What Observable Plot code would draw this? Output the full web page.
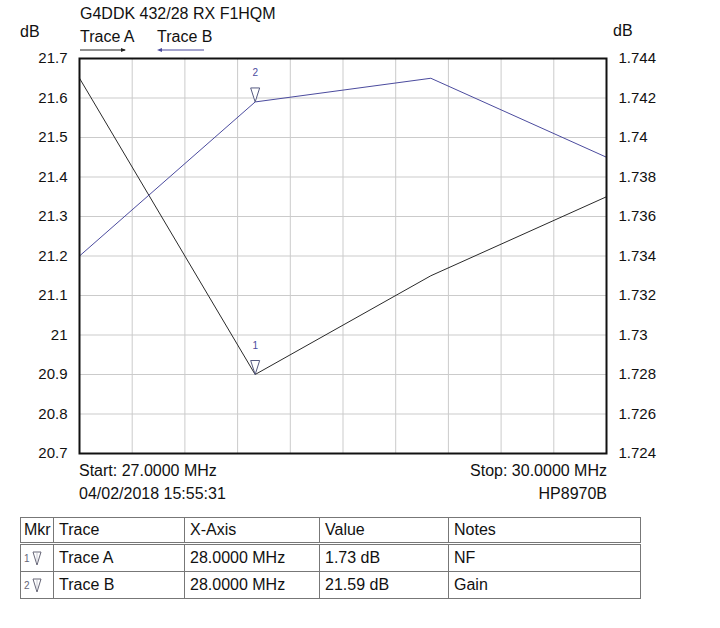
<!DOCTYPE html>
<html><head><meta charset="utf-8">
<script src="https://cdn.jsdelivr.net/npm/d3@7"></script>
<script src="https://cdn.jsdelivr.net/npm/@observablehq/plot@0.6"></script>
<style>
body{margin:0;background:#fff;font-family:"Liberation Sans",Arial,sans-serif;color:#111}
#wrap{position:relative;width:720px;height:628px;overflow:hidden;background:#fff}
#chart{position:absolute;left:0;top:0}
.t{position:absolute;font-size:16px;line-height:16px;white-space:nowrap}
.r{text-align:right}
#tbl{position:absolute;left:20px;top:517px;border-collapse:collapse;font-size:16px;line-height:16px;border:1px solid #666}
#tbl td{border:1px solid #777;padding:0 0 0 5px;height:26px;vertical-align:middle;white-space:nowrap}
#tbl tr.h td{border-bottom:3px double #777;height:24px}
#tbl td.m{padding:0 0 0 3px}
.mn{font-size:10px;color:#667;margin-right:2px}
</style></head><body>
<div id="wrap">
  <div id="chart"></div>
  <div class="t" style="left:80px;top:6px">G4DDK 432/28 RX F1HQM</div>
  <div class="t" style="left:20px;top:24px">dB</div>
  <div class="t" style="left:613px;top:23px">dB</div>
  <div class="t" style="left:80px;top:29px">Trace A</div>
  <div class="t" style="left:157px;top:29px">Trace B</div>
  <svg style="position:absolute;left:78px;top:45px" width="130" height="10">
    <line x1="2" y1="5" x2="47" y2="5" stroke="#222" stroke-width="1"/>
    <path d="M48,5 L43,3 L43,7 Z" fill="#222"/>
    <line x1="81" y1="5" x2="126" y2="5" stroke="#4b4b9e" stroke-width="1"/>
    <path d="M79,5 L84,3 L84,7 Z" fill="#4b4b9e"/>
  </svg>
  <div class="t" style="left:79px;top:463px">Start: 27.0000 MHz</div>
  <div class="t r" style="right:113px;top:463px">Stop: 30.0000 MHz</div>
  <div class="t" style="left:79px;top:486px">04/02/2018 15:55:31</div>
  <div class="t r" style="right:113px;top:486px">HP8970B</div>
  <table id="tbl"></table>
</div>
<script>
// ---- data ----
const freqMHz = [27, 28, 29, 30];
const traceA_NF = [1.743, 1.728, 1.733, 1.737];      // right axis (dB)
const traceB_Gain = [21.20, 21.59, 21.65, 21.45];    // left axis (dB)
const leftTicks = [20.7, 20.8, 20.9, 21.0, 21.1, 21.2, 21.3, 21.4, 21.5, 21.6, 21.7];
const rightDomain = [1.724, 1.744];
const leftDomain = [20.7, 21.7];
const xGridMHz = [27, 27.3, 27.6, 27.9, 28.2, 28.5, 28.8, 29.1, 29.4, 29.7, 30];
const markerNums = [1, 2];
const markerTraces = ["A", "B"];
const markerFreq = [28, 28];
const tableHeader = ["Mkr", "Trace", "X-Axis", "Value", "Notes"];
const tableTrace = ["Trace A", "Trace B"];
const tableX = ["28.0000 MHz", "28.0000 MHz"];
const tableValue = ["1.73 dB", "21.59 dB"];
const tableNotes = ["NF", "Gain"];

// right-axis values mapped onto the left scale
const k = (leftDomain[1] - leftDomain[0]) / (rightDomain[1] - rightDomain[0]);
const toLeft = v => leftDomain[0] + (v - rightDomain[0]) * k;
const toRight = v => rightDomain[0] + (v - leftDomain[0]) / k;

const rowsA = freqMHz.map((f, i) => ({f, y: toLeft(traceA_NF[i])}));
const rowsB = freqMHz.map((f, i) => ({f, y: traceB_Gain[i]}));
const markerRows = markerNums.map((n, i) => {
  const rows = markerTraces[i] === "A" ? rowsA : rowsB;
  const r = rows.find(d => d.f === markerFreq[i]);
  return {n: String(n), f: r.f, y: r.y};
});

const markerSymbol = {
  draw(ctx) { ctx.moveTo(-4.5, -14); ctx.lineTo(4.5, -14); ctx.lineTo(0, 0); ctx.closePath(); }
};

const blue = "#4b4b9e";
const chart = Plot.plot({
  width: 720, height: 510,
  marginTop: 58, marginBottom: 57, marginLeft: 79, marginRight: 114,
  x: {domain: [27, 30], axis: null},
  y: {domain: leftDomain},
  style: {fontFamily: '"Liberation Sans", Arial, sans-serif', fontSize: "15px", color: "#111", background: "transparent"},
  marks: [
    Plot.gridX(xGridMHz, {stroke: "#cbcbcb", strokeOpacity: 1}),
    Plot.gridY(leftTicks, {stroke: "#cbcbcb", strokeOpacity: 1}),
    Plot.line(rowsA, {x: "f", y: "y", stroke: "#2a2a2a", strokeWidth: 1}),
    Plot.line(rowsB, {x: "f", y: "y", stroke: blue, strokeWidth: 1}),
    Plot.frame({stroke: "#111", strokeWidth: 2}),
    Plot.axisY(leftTicks, {anchor: "left", tickSize: 0, tickPadding: 12, label: null,
      tickFormat: d => String(+d.toFixed(1))}),
    Plot.axisY(leftTicks, {anchor: "right", tickSize: 0, tickPadding: 12, label: null,
      tickFormat: d => String(+toRight(d).toFixed(3))}),
    Plot.dot(markerRows, {x: "f", y: "y", symbol: markerSymbol, r: 5, stroke: "#555a80", fill: "white", strokeWidth: 1}),
    Plot.text(markerRows, {x: "f", y: "y", text: "n", dy: -29, fill: blue, fontSize: 10})
  ]
});
document.getElementById("chart").appendChild(chart);

// marker table
const tbl = document.getElementById("tbl");
const widths = [33, 131, 135, 129, 192];
const tri = '<svg width="10" height="16" style="vertical-align:middle"><path d="M1,2 L9,2 L5,15 Z" fill="none" stroke="#667" stroke-width="1"/><line x1="5" y1="3" x2="5" y2="13" stroke="#aab" stroke-width="0.6"/></svg>';
let html = '<tr class="h">' + tableHeader.map((h, i) =>
  `<td${i === 0 ? ' class="m"' : ''} style="width:${widths[i] - (i === 0 ? 4 : 6)}px">${h}</td>`).join("") + '</tr>';
markerNums.forEach((n, i) => {
  html += `<tr><td class="m"><span class="mn">${n}</span>${tri}</td><td>${tableTrace[i]}</td><td>${tableX[i]}</td><td>${tableValue[i]}</td><td>${tableNotes[i]}</td></tr>`;
});
tbl.innerHTML = html;
</script>
</body></html>
